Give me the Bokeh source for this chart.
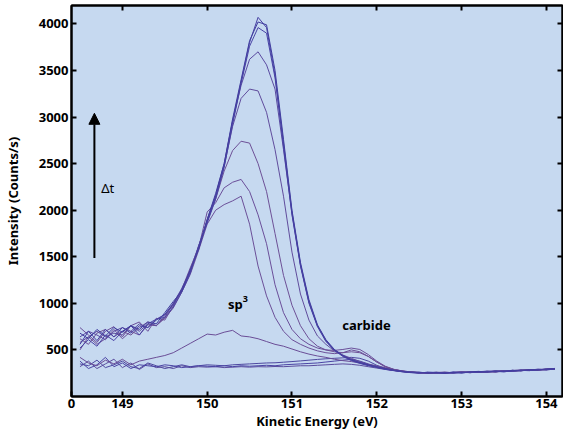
from bokeh.plotting import figure
from bokeh.models import Range1d, FixedTicker, LinearAxis, Arrow, NormalHead, Label
from bokeh.embed import file_html
from bokeh.resources import INLINE

# ---------------- data ----------------
energy = [148.5, 148.6, 148.7, 148.8, 148.9, 149.0, 149.1, 149.2, 149.3, 149.4,
          149.5, 149.6, 149.7, 149.8, 149.9, 150.0, 150.1, 150.2, 150.3, 150.4,
          150.5, 150.6, 150.7, 150.8, 150.9, 151.0, 151.1, 151.2, 151.3, 151.4,
          151.5, 151.6, 151.7, 151.8, 151.9, 152.0, 152.1, 152.2, 152.3, 152.4,
          152.5, 152.6, 152.7, 152.8, 152.9, 153.0, 153.1, 153.2, 153.3, 153.4,
          153.5, 153.6, 153.7, 153.8, 153.9, 154.0, 154.1]

curve_a = [560, 700, 600, 720, 640, 740, 680, 760, 740, 820, 880, 990, 1150, 1340, 1600, 1880, 2150, 2480, 2950, 3380,
           3800, 4070, 3960, 3450, 2720, 1980, 1420, 1020, 760, 600, 500, 435, 395, 360, 335, 315, 295, 280, 268, 262,
           255, 258, 252, 256, 250, 258, 262, 258, 266, 270, 265, 275, 280, 278, 286, 290, 298]
curve_b = [680, 620, 720, 650, 740, 690, 760, 720, 800, 780, 900, 1020, 1130, 1360, 1580, 1900, 2180, 2500, 2980, 3400,
           3820, 4020, 3990, 3500, 2760, 2000, 1440, 1040, 770, 610, 505, 440, 390, 365, 340, 318, 300, 282, 270, 258,
           262, 250, 256, 248, 260, 252, 264, 270, 262, 272, 268, 280, 276, 288, 284, 296, 300]
curve_c = [520, 610, 540, 660, 600, 700, 760, 660, 780, 830, 850, 960, 1120, 1320, 1620, 1860, 2120, 2460, 2920, 3360,
           3760, 3960, 3900, 3420, 2680, 1950, 1400, 1000, 750, 590, 495, 430, 385, 355, 330, 312, 292, 278, 265, 256,
           250, 262, 258, 252, 262, 256, 258, 266, 272, 264, 276, 270, 284, 280, 290, 286, 294]
curve_d = [640, 700, 660, 610, 700, 740, 700, 780, 740, 830, 880, 1000, 1160, 1350, 1590, 1900, 2160, 2500, 2960, 3340,
           3620, 3700, 3560, 3300, 2650, 1960, 1410, 1010, 760, 600, 500, 440, 400, 365, 338, 316, 296, 280, 268, 260,
           256, 252, 260, 254, 258, 264, 256, 262, 270, 276, 270, 282, 278, 286, 292, 288, 302]
curve_e = [580, 640, 700, 640, 680, 660, 760, 700, 780, 760, 870, 980, 1140, 1330, 1610, 1890, 2140, 2470, 2900, 3200,
           3300, 3280, 3050, 2650, 2150, 1550, 1100, 820, 650, 560, 490, 445, 410, 375, 345, 322, 300, 284, 270, 262,
           254, 258, 250, 256, 254, 262, 258, 268, 264, 272, 270, 278, 284, 280, 290, 294, 290]
curve_f = [620, 560, 680, 720, 640, 700, 660, 740, 800, 760, 850, 1000, 1130, 1360, 1620, 1880, 2120, 2420, 2640, 2740,
           2720, 2500, 2200, 1750, 1300, 980, 760, 620, 540, 500, 480, 470, 480, 470, 430, 370, 320, 290, 272, 262,
           256, 250, 258, 262, 254, 260, 266, 260, 270, 266, 276, 272, 282, 288, 284, 296, 292]
curve_g = [740, 660, 580, 700, 750, 640, 760, 800, 700, 840, 820, 970, 1150, 1380, 1600, 1980, 2080, 2240, 2300, 2330,
           2200, 1950, 1640, 1200, 900, 720, 620, 560, 520, 500, 495, 505, 520, 505, 450, 380, 325, 292, 274, 264,
           258, 252, 256, 250, 258, 262, 256, 264, 268, 262, 274, 280, 276, 286, 282, 292, 298]
curve_h = [500, 640, 560, 620, 720, 620, 700, 660, 770, 760, 840, 950, 1120, 1310, 1570, 1850, 2000, 2060, 2100, 2150,
           1850, 1400, 1080, 850, 700, 610, 560, 520, 490, 470, 460, 470, 500, 480, 430, 370, 320, 290, 272, 260,
           254, 258, 252, 260, 256, 262, 258, 266, 262, 270, 278, 274, 280, 286, 290, 288, 296]
curve_sp3 = [420, 360, 330, 390, 350, 400, 340, 380, 400, 420, 440, 470, 520, 570, 620, 670, 660, 690, 710, 650,
             640, 620, 590, 560, 540, 510, 480, 455, 435, 420, 400, 385, 375, 360, 345, 330, 310, 290, 275, 264,
             258, 254, 260, 252, 258, 264, 258, 266, 270, 264, 272, 278, 284, 280, 290, 286, 294]
curve_j = [380, 300, 340, 420, 320, 360, 300, 340, 330, 320, 340, 330, 310, 320, 330, 325, 320, 330, 320, 330,
           325, 330, 335, 330, 340, 345, 350, 355, 360, 370, 380, 390, 400, 380, 350, 320, 300, 285, 272, 262,
           256, 252, 258, 254, 260, 256, 264, 260, 268, 272, 268, 280, 276, 284, 292, 288, 298]
curve_k = [320, 380, 300, 350, 400, 310, 360, 290, 350, 310, 320, 300, 330, 310, 320, 315, 320, 310, 315, 320,
           315, 320, 318, 322, 320, 325, 330, 330, 335, 340, 345, 350, 345, 335, 320, 305, 290, 278, 266, 258,
           252, 256, 250, 258, 252, 260, 256, 264, 262, 268, 274, 270, 278, 284, 282, 290, 296]
curve_l = [350, 330, 390, 310, 340, 380, 320, 300, 360, 330, 300, 320, 340, 320, 330, 340, 335, 330, 340, 345,
           350, 355, 360, 362, 368, 375, 382, 390, 398, 405, 410, 415, 420, 410, 380, 335, 300, 282, 270, 260,
           254, 250, 256, 252, 258, 254, 262, 258, 264, 270, 266, 274, 280, 278, 286, 292, 290]

curves = [curve_l, curve_k, curve_j, curve_sp3, curve_h, curve_g, curve_f, curve_e, curve_d, curve_c, curve_b, curve_a]
colors = ["#4d48a0", "#5a4c9c", "#4b44a4", "#6a4d96", "#6b4f98", "#6a4e99", "#6d5096", "#604c9c",
          "#5a4aa0", "#4a44a6", "#3f3c9e", "#4640a2"]

x_ticks = [149, 150, 151, 152, 153, 154]
y_ticks = [500, 1000, 1500, 2000, 2500, 3000, 3500, 4000]
x_lo, x_hi = 148.4, 154.19
y_lo, y_hi = 0, 4197

FONT = "Noto Sans"

p = figure(width=563, height=432, output_backend="svg", toolbar_location=None,
           x_range=Range1d(x_lo, x_hi), y_range=Range1d(y_lo, y_hi),
           min_border_left=64, min_border_right=1, min_border_top=5, min_border_bottom=35,
           background_fill_color="#c6d9f0", border_fill_color="white")
p.grid.visible = False
p.outline_line_color = "black"
p.outline_line_width = 2

# mirrored axes on top and right carry only inward ticks
p.add_layout(LinearAxis(), "right")
p.add_layout(LinearAxis(), "above")

p.below[0].ticker = FixedTicker(ticks=[x_lo] + x_ticks)
p.below[0].major_label_overrides = {x_lo: "0"}
p.above[0].ticker = FixedTicker(ticks=x_ticks)
for ax in p.yaxis:
    ax.ticker = FixedTicker(ticks=y_ticks)

for ax in p.axis:
    ax.axis_line_width = 2
    ax.axis_line_color = "black"
    ax.major_tick_in = 5
    ax.major_tick_out = 0
    ax.major_tick_line_width = 2
    ax.minor_tick_in = 0
    ax.minor_tick_out = 0
    ax.major_label_text_font = FONT
    ax.major_label_text_font_style = "bold"
    ax.major_label_text_font_size = "13px"
    ax.major_label_text_color = "black"
    ax.axis_label_text_font = FONT
    ax.axis_label_text_font_style = "bold"
    ax.axis_label_text_font_size = "13px"
    ax.axis_label_text_color = "black"

p.right[0].major_label_text_font_size = "0px"
p.right[0].major_label_standoff = 0
p.above[0].major_label_text_font_size = "0px"
p.above[0].major_label_standoff = 0

p.below[0].axis_label = "Kinetic Energy (eV)"
p.below[0].major_label_standoff = 2
p.below[0].axis_label_standoff = 1
p.left[0].axis_label = "Intensity (Counts/s)"
p.left[0].major_label_standoff = 3
p.left[0].axis_label_standoff = 14

for ys, c in zip(curves, colors):
    p.line(energy, ys, line_color=c, line_width=1)

# annotations
p.add_layout(Arrow(end=NormalHead(size=11, fill_color="black", line_color="black"),
                   x_start=148.67, y_start=1488, x_end=148.67, y_end=3040,
                   line_width=2, line_color="black"))
p.add_layout(Label(x=148.75, y=2234, text="\u0394t", text_font=FONT, text_font_size="13px",
                   text_baseline="middle", text_color="black"))
p.add_layout(Label(x=150.245, y=989, text="sp", text_font=FONT, text_font_size="13px",
                   text_font_style="bold", text_baseline="alphabetic", text_color="black"))
p.add_layout(Label(x=150.42, y=1045, text="3", text_font=FONT, text_font_size="9px",
                   text_font_style="bold", text_baseline="alphabetic", text_color="black"))
p.add_layout(Label(x=151.593, y=767, text="carbide", text_font=FONT, text_font_size="13px",
                   text_font_style="bold", text_baseline="middle", text_color="black"))

open("out.html", "w").write(file_html(p, INLINE))
